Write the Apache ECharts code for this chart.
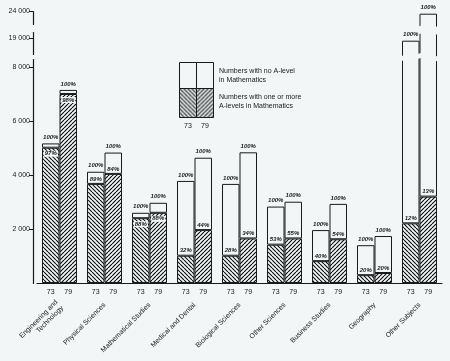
<!DOCTYPE html>
<html>
<head>
<meta charset="utf-8">
<script src="https://cdn.jsdelivr.net/npm/echarts@6/dist/echarts.min.js"></script>
<style>
html,body{margin:0;padding:0;background:#f2f6f6;}
#c{width:450px;height:361px;}
</style>
</head>
<body>
<div id="c"></div>
<script>
// ---- data ----
const categories = ['Engineering and\nTechnology', 'Physical Sciences', 'Mathematical Studies', 'Medical and Dental', 'Biological Sciences', 'Other Sciences', 'Business Studies', 'Geography', 'Other Subjects'];
const total73 = [5170, 4120, 2600, 3780, 3670, 2830, 1960, 1400, 18900];
const withMath73 = [5010, 3670, 2400, 1010, 1010, 1420, 810, 290, 2210];
const total79 = [7150, 4830, 2970, 4640, 4840, 3010, 2930, 1740, 23900];
const withMath79 = [7000, 4040, 2600, 1960, 1650, 1650, 1620, 370, 3200];
const pct73 = ['97%', '89%', '88%', '32%', '28%', '53%', '40%', '20%', '12%'];
const pct79 = ['98%', '84%', '88%', '44%', '34%', '55%', '54%', '20%', '13%'];
const totalLabel = '100%';
const yearLabels = ['73', '79'];
const yTicks = [2000, 4000, 6000, 8000, 19000, 24000];
const legendTexts = ['Numbers with no A-level', 'in Mathematics', 'Numbers with one or more', 'A-levels in Mathematics'];

const bg = '#f2f6f6';
const ink = '#1a1a1a';
const FONT = 'Liberation Sans, Arial, sans-serif';

function makeHatch(dir) {
  const s = 4;
  const c = document.createElement('canvas');
  c.width = s; c.height = s;
  const x = c.getContext('2d');
  x.fillStyle = bg; x.fillRect(0, 0, s, s);
  x.strokeStyle = '#111'; x.lineWidth = 1.15;
  x.beginPath();
  for (let k = -s; k <= s; k += s) {
    if (dir === 'back') { x.moveTo(k, 0); x.lineTo(k + s, s); }
    else { x.moveTo(k + s, 0); x.lineTo(k, s); }
  }
  x.stroke();
  return c;
}
const hatchBack = makeHatch('back');
const hatchFwd = makeHatch('fwd');

const chart = echarts.init(document.getElementById('c'), null, {renderer: 'canvas'});

const zeros = categories.map(() => 0);
function pctData(withArr, totArr) {
  return withArr.map((v, i) => {
    const inside = (totArr[i] - v) < 400;
    return {
      value: v,
      label: inside ? {position: 'insideTop', distance: 3, backgroundColor: bg, padding: [0, 1]} : {position: 'top', distance: 2}
    };
  });
}
const pctLabel = {
  show: true, fontSize: 6, fontStyle: 'italic', fontWeight: 'bold', color: ink, fontFamily: FONT
};

// zero-height helper bars that only carry a label (year under the bar / 100% on top)
function labelSeries(stack, text, position, distance, extra) {
  return {
    type: 'bar', stack: stack, data: zeros, barWidth: 17.5, barGap: '0%', z: 60,
    itemStyle: {color: 'transparent', borderWidth: 0},
    label: Object.assign({show: true, position: position, distance: distance, formatter: text, color: ink, fontFamily: FONT}, extra),
    silent: true
  };
}

const option = {
  backgroundColor: bg,
  animation: false,
  grid: {left: 37, right: 8, top: 11, bottom: 78},
  xAxis: {
    type: 'category', data: categories,
    axisLine: {show: true, lineStyle: {color: ink, width: 1.2}},
    axisTick: {show: false},
    axisLabel: {interval: 0, rotate: 45, margin: 21, fontSize: 7, color: ink, fontFamily: FONT, lineHeight: 8}
  },
  yAxis: {
    type: 'value', min: 0, max: 24000, offset: 4,
    breaks: [
      {start: 8300, end: 18400, gap: 174},
      {start: 19200, end: 23500, gap: 300}
    ],
    breakArea: {
      show: true,
      itemStyle: {color: bg, borderColor: bg, borderWidth: 0, opacity: 1},
      zigzagAmplitude: 2.5,
      zigzagZ: 50,
      expandOnClick: false
    },
    splitLine: {show: false},
    axisLine: {show: true, lineStyle: {color: ink, width: 1.2}},
    axisTick: {show: true, length: 4, inside: false, customValues: yTicks, lineStyle: {color: ink}},
    axisLabel: {
      customValues: yTicks, margin: 3, fontSize: 7, color: ink, fontFamily: FONT,
      formatter: v => String(v).replace(/(\d)(?=(\d{3})+$)/, '$1 ')
    }
  },
  series: [
    labelSeries('a', yearLabels[0], 'bottom', 6, {fontSize: 7}),
    {
      type: 'bar', stack: 'a', barWidth: 17.5, barGap: '0%',
      data: pctData(withMath73, total73),
      itemStyle: {color: {image: hatchBack, repeat: 'repeat'}, borderColor: ink, borderWidth: 1},
      label: Object.assign({}, pctLabel, {formatter: p => pct73[p.dataIndex]})
    },
    {
      type: 'bar', stack: 'a', barWidth: 17.5, barGap: '0%',
      data: total73.map((t, i) => t - withMath73[i]),
      itemStyle: {color: bg, borderColor: ink, borderWidth: 1}
    },
    labelSeries('a', totalLabel, 'top', 3, {fontSize: 6, fontStyle: 'italic', fontWeight: 'bold'}),
    labelSeries('b', yearLabels[1], 'bottom', 6, {fontSize: 7}),
    {
      type: 'bar', stack: 'b', barWidth: 17.5, barGap: '0%',
      data: pctData(withMath79, total79),
      itemStyle: {color: {image: hatchFwd, repeat: 'repeat'}, borderColor: ink, borderWidth: 1},
      label: Object.assign({}, pctLabel, {formatter: p => pct79[p.dataIndex]})
    },
    {
      type: 'bar', stack: 'b', barWidth: 17.5, barGap: '0%',
      data: total79.map((t, i) => t - withMath79[i]),
      itemStyle: {color: bg, borderColor: ink, borderWidth: 1}
    },
    labelSeries('b', totalLabel, 'top', 3, {fontSize: 6, fontStyle: 'italic', fontWeight: 'bold'})
  ],
  graphic: [
    {type: 'rect', left: 179, top: 62, z: 100, shape: {width: 17, height: 26}, style: {fill: bg, stroke: ink, lineWidth: 1}},
    {type: 'rect', left: 196, top: 62, z: 100, shape: {width: 17, height: 26}, style: {fill: bg, stroke: ink, lineWidth: 1}},
    {type: 'rect', left: 179, top: 88, z: 100, shape: {width: 17, height: 29}, style: {fill: {image: hatchBack, repeat: 'repeat'}, stroke: ink, lineWidth: 1}},
    {type: 'rect', left: 196, top: 88, z: 100, shape: {width: 17, height: 29}, style: {fill: {image: hatchFwd, repeat: 'repeat'}, stroke: ink, lineWidth: 1}},
    {type: 'text', left: 184, top: 123, z: 100, style: {text: yearLabels[0], fill: ink, font: '7px ' + FONT}},
    {type: 'text', left: 201, top: 123, z: 100, style: {text: yearLabels[1], fill: ink, font: '7px ' + FONT}},
    {type: 'text', left: 219, top: 68, z: 100, style: {text: legendTexts[0], fill: ink, font: '7px ' + FONT}},
    {type: 'text', left: 219, top: 77, z: 100, style: {text: legendTexts[1], fill: ink, font: '7px ' + FONT}},
    {type: 'text', left: 219, top: 94, z: 100, style: {text: legendTexts[2], fill: ink, font: '7px ' + FONT}},
    {type: 'text', left: 219, top: 103, z: 100, style: {text: legendTexts[3], fill: ink, font: '7px ' + FONT}}
  ]
};
chart.setOption(option);
</script>
</body>
</html>
